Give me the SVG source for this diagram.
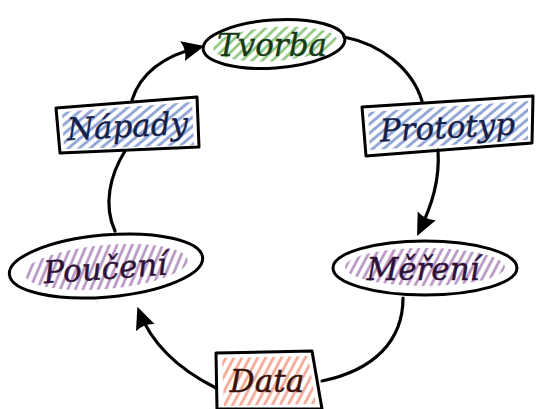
<svg xmlns="http://www.w3.org/2000/svg" width="539" height="409" viewBox="0 0 539 409">
  <defs>
    <pattern id="hatch-green" patternUnits="userSpaceOnUse" width="7" height="7" patternTransform="rotate(-40)">
      <line x1="0" y1="3.5" x2="7" y2="3.5" stroke="#8cc67c" stroke-width="2.6"/>
    </pattern>
    <pattern id="hatch-blue" patternUnits="userSpaceOnUse" width="7" height="7" patternTransform="rotate(-40)">
      <line x1="0" y1="3.5" x2="7" y2="3.5" stroke="#8ea4d4" stroke-width="2.8"/>
    </pattern>
    <pattern id="hatch-purple" patternUnits="userSpaceOnUse" width="7" height="7" patternTransform="rotate(-62)">
      <line x1="0" y1="3.5" x2="7" y2="3.5" stroke="#b592c2" stroke-width="2.6"/>
    </pattern>
    <pattern id="hatch-salmon" patternUnits="userSpaceOnUse" width="7" height="7" patternTransform="rotate(-62)">
      <line x1="0" y1="3.5" x2="7" y2="3.5" stroke="#f1a590" stroke-width="2.6"/>
    </pattern>
    <marker id="head" viewBox="0 0 10 10" refX="8" refY="5" markerWidth="7" markerHeight="7" orient="auto" markerUnits="strokeWidth">
      <path d="M0,0.5 L10,5 L0,9.5 Q2,5 0,0.5 Z" fill="#000"/>
    </marker>
  </defs>
  <style>
    .outline { fill: none; stroke: #000; stroke-width: 3; stroke-linejoin: round; }
    .wire { fill: none; stroke: #000; stroke-width: 3.2; stroke-linecap: round; }
    .label { font-family: "DejaVu Serif", "Liberation Serif", serif; font-style: italic; font-size: 31px; text-anchor: middle; stroke-width: 0.4; }
  </style>

  <rect width="539" height="409" fill="#fff"/>

  <g id="connectors">
    <path class="wire" d="M132,100 C140,75 162,56 200,47" marker-end="url(#head)"/>
    <path class="wire" d="M344,37 C380,44 412,68 422,101"/>
    <path class="wire" d="M438,150 C440,180 432,205 419,232" marker-end="url(#head)"/>
    <path class="wire" d="M403,298 C403,340 375,370 322,381"/>
    <path class="wire" d="M216,388 C180,370 152,345 139,311" marker-end="url(#head)"/>
    <path class="wire" d="M115,231 C103,205 110,175 125,151"/>
  </g>

  <g id="tvorba">
    <ellipse cx="275" cy="44" rx="62" ry="17" transform="rotate(-4 275 44)" fill="url(#hatch-green)"/>
    <ellipse cx="274" cy="44" rx="71" ry="24" transform="rotate(-4 274 44)" class="outline"/>
    <text class="label" x="272" y="56" fill="#163a16" stroke="#163a16">Tvorba</text>
  </g>

  <g id="napady">
    <polygon points="62,112 192,102 194,145 64,149" fill="url(#hatch-blue)"/>
    <polygon points="56,108 197,97 199,147 60,153" class="outline"/>
    <text class="label" x="128" y="137" fill="#14204a" stroke="#14204a" transform="rotate(-3 128 137)">Nápady</text>
  </g>

  <g id="prototyp">
    <polygon points="368,112 528,101 528,140 370,150" fill="url(#hatch-blue)"/>
    <polygon points="362,107 533,96 532,143 366,156" class="outline"/>
    <text class="label" x="448" y="138" fill="#14204a" stroke="#14204a" transform="rotate(-3 448 138)">Prototyp</text>
  </g>

  <g id="mereni">
    <ellipse cx="425" cy="267" rx="80" ry="19" fill="url(#hatch-purple)"/>
    <ellipse cx="425" cy="268" rx="92" ry="27" class="outline"/>
    <text class="label" x="423" y="280" fill="#2e1238" stroke="#2e1238">Měření</text>
  </g>

  <g id="data">
    <polygon points="222,358 308,356 316,404 224,406" fill="url(#hatch-salmon)"/>
    <polygon points="216,353 312,351 322,409 217,409" class="outline"/>
    <text class="label" x="267" y="392" fill="#3a120c" stroke="#3a120c">Data</text>
  </g>

  <g id="pouceni">
    <ellipse cx="106" cy="267" rx="82" ry="22" transform="rotate(-5 106 267)" fill="url(#hatch-purple)"/>
    <ellipse cx="106" cy="266" rx="97" ry="31" transform="rotate(-5 106 266)" class="outline"/>
    <text class="label" x="106" y="279" fill="#2e1238" stroke="#2e1238" transform="rotate(-4 106 279)">Poučení</text>
  </g>
</svg>
